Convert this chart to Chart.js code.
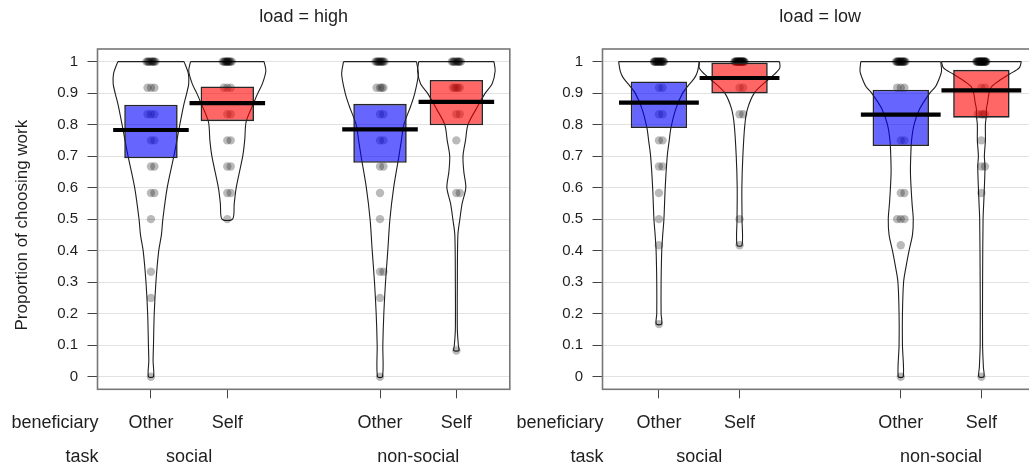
<!DOCTYPE html>
<html>
<head>
<meta charset="utf-8">
<script src="https://cdn.jsdelivr.net/npm/chart.js@4.4.1/dist/chart.umd.min.js"></script>
<style>
  html, body { margin: 0; padding: 0; background: #fff; width: 1029px; height: 470px; overflow: hidden; }
  #wrap { position: relative; width: 1029px; height: 470px; overflow: hidden; }
  canvas { position: absolute; top: 0; }
  #panelHigh { left: 0; }
  #panelLow { left: 512px; }
</style>
</head>
<body>
<div id="wrap">
  <canvas id="panelHigh" width="514" height="470"></canvas>
  <canvas id="panelLow" width="530" height="470"></canvas>
</div>
<script>
// ---- data ---------------------------------------------------------------
const LOADS = ['high', 'low'];
const TASKS = ['social', 'non-social'];
const BENEFICIARIES = ['Other', 'Self'];
const Y_TICKS = [0, 0.1, 0.2, 0.3, 0.4, 0.5, 0.6, 0.7, 0.8, 0.9, 1];

// bean order inside each panel: social/Other, social/Self, non-social/Other, non-social/Self
const MEAN_HIGH = [0.783, 0.868, 0.785, 0.872];
const MEAN_LOW  = [0.870, 0.948, 0.832, 0.909];

// inference band (HDI) of each bean: [lower, upper]
const HDI_HIGH = [[0.693, 0.863], [0.811, 0.921], [0.679, 0.866], [0.798, 0.942]];
const HDI_LOW  = [[0.789, 0.937], [0.899, 0.997], [0.732, 0.911], [0.822, 0.974]];

// per-participant proportions
const POINTS_HIGH = [
  [1, 1, 1, 1, 1, 1, 1, 1, 1, 1, 0.917, 0.917, 0.917, 0.833, 0.833, 0.833, 0.75, 0.75,
   0.667, 0.667, 0.583, 0.583, 0.5, 0.333, 0.25, 0],
  [1, 1, 1, 1, 1, 1, 1, 1, 1, 1, 1, 1, 0.917, 0.917, 0.917, 0.833, 0.833, 0.75, 0.75,
   0.667, 0.667, 0.583, 0.583, 0.5],
  [1, 1, 1, 1, 1, 1, 1, 1, 1, 1, 1, 0.917, 0.917, 0.917, 0.917, 0.833, 0.833, 0.75, 0.75,
   0.667, 0.667, 0.583, 0.5, 0.333, 0.333, 0.25, 0],
  [1, 1, 1, 1, 1, 1, 1, 1, 1, 1, 0.917, 0.917, 0.917, 0.917, 0.917, 0.833, 0.833, 0.75,
   0.583, 0.583, 0.083]
];
const POINTS_LOW = [
  [1, 1, 1, 1, 1, 1, 1, 1, 1, 1, 1, 1, 1, 1, 1, 1, 1, 1, 0.917, 0.917, 0.833, 0.833,
   0.75, 0.75, 0.667, 0.667, 0.583, 0.5, 0.417, 0.167],
  [1, 1, 1, 1, 1, 1, 1, 1, 1, 1, 1, 1, 1, 1, 1, 1, 1, 1, 1, 1, 1, 1, 1, 1,
   0.917, 0.917, 0.833, 0.833, 0.5, 0.417],
  [1, 1, 1, 1, 1, 1, 1, 1, 1, 1, 1, 1, 1, 1, 1, 1, 0.917, 0.917, 0.917, 0.75, 0.75,
   0.583, 0.583, 0.5, 0.5, 0.5, 0.417, 0],
  [1, 1, 1, 1, 1, 1, 1, 1, 1, 1, 1, 1, 1, 1, 1, 1, 1, 1, 1, 1, 1, 1, 1, 1,
   0.917, 0.917, 0.833, 0.833, 0.833, 0.833, 0.75, 0.667, 0.667, 0.583, 0]
];

// density outline of each bean: [proportion, half width in bean units], top to bottom
const VIOLIN_HIGH = [
  [[1, 0.434], [0.963, 0.489], [0.93, 0.495], [0.9, 0.469], [0.863, 0.43], [0.8, 0.378],
   [0.75, 0.34], [0.7, 0.3], [0.6, 0.213], [0.5, 0.156], [0.45, 0.137], [0.4, 0.102],
   [0.3, 0.065], [0.2, 0.043], [0.1, 0.033], [0.05, 0.028], [0, 0.033]],
  [[1, 0.482], [0.97, 0.505], [0.93, 0.46], [0.9, 0.4], [0.87, 0.348], [0.81, 0.248],
   [0.75, 0.228], [0.7, 0.202], [0.6, 0.117], [0.55, 0.091], [0.5, 0.069]],
  [[1, 0.478], [0.96, 0.502], [0.9, 0.456], [0.86, 0.404], [0.8, 0.313], [0.75, 0.28],
   [0.7, 0.248], [0.6, 0.179], [0.5, 0.13], [0.4, 0.102], [0.3, 0.072], [0.2, 0.05],
   [0.1, 0.037], [0, 0.033]],
  [[1, 0.493], [0.97, 0.508], [0.93, 0.469], [0.9, 0.378], [0.85, 0.26], [0.8, 0.152],
   [0.75, 0.12], [0.7, 0.087], [0.65, 0.098], [0.6, 0.124], [0.55, 0.076], [0.5, 0.046],
   [0.45, 0.02], [0.3, 0.013], [0.15, 0.013], [0.1, 0.026], [0.083, 0.033]]
];
const VIOLIN_LOW = [
  [[1, 0.5], [0.97, 0.48], [0.95, 0.446], [0.93, 0.384], [0.9, 0.294], [0.85, 0.21],
   [0.79, 0.149], [0.75, 0.128], [0.7, 0.103], [0.6, 0.078], [0.5, 0.062], [0.45, 0.047],
   [0.4, 0.035], [0.3, 0.027], [0.2, 0.027], [0.167, 0.033]],
  [[1, 0.496], [0.98, 0.5], [0.96, 0.434], [0.93, 0.297], [0.9, 0.182], [0.85, 0.099],
   [0.8, 0.066], [0.7, 0.041], [0.6, 0.029], [0.5, 0.031], [0.417, 0.031]],
  [[1, 0.496], [0.97, 0.506], [0.95, 0.483], [0.92, 0.43], [0.9, 0.36], [0.85, 0.235],
   [0.8, 0.165], [0.75, 0.134], [0.7, 0.124], [0.65, 0.12], [0.6, 0.128], [0.55, 0.14],
   [0.5, 0.155], [0.45, 0.145], [0.4, 0.103], [0.35, 0.066], [0.3, 0.035], [0.2, 0.021],
   [0.1, 0.021], [0, 0.031]],
  [[1, 0.496], [0.98, 0.47], [0.96, 0.347], [0.94, 0.223], [0.92, 0.124], [0.9, 0.095],
   [0.87, 0.077], [0.85, 0.062], [0.83, 0.062], [0.8, 0.05], [0.75, 0.05], [0.7, 0.037],
   [0.667, 0.045], [0.6, 0.037], [0.55, 0.029], [0.5, 0.021], [0.3, 0.015], [0.1, 0.015],
   [0.03, 0.025], [0, 0.031]]
];

// ---- styling ------------------------------------------------------------
const FONT = '"Liberation Sans", Arial, Helvetica, sans-serif';
const INK = '#1f1f1f';
const BEAN_FILL = ['rgba(0, 0, 255, 0.6)', 'rgba(255, 0, 0, 0.6)'];
const JITTER = [0, 0.045, -0.045, 0.022, -0.022, 0.06, -0.06, 0.011, -0.033, 0.033, -0.011];
const AVG_HALF = 0.495;

// beans sit at 1, 2 (social) and 4, 5 (non-social)
const beanPos = i => Math.floor(i / 2) * 3 + (i % 2) + 1;

function buildDatasets(means, hdi, points, violins) {
  const ds = [];
  violins.forEach((prof, i) => {
    const c = beanPos(i);
    const leftSide = prof.map(([y, w]) => ({ x: c - w, y }));
    const rightSide = prof.slice().reverse().map(([y, w]) => ({ x: c + w, y }));
    ds.push({
      type: 'line', data: leftSide.concat(rightSide), borderColor: INK, borderWidth: 1.1,
      tension: 0.3, pointRadius: 0, fill: false, order: 4
    });
    const [yTop, wTop] = prof[0];
    ds.push({
      type: 'line', data: [{ x: c - wTop, y: yTop }, { x: c + wTop, y: yTop }],
      borderColor: INK, borderWidth: 1.1, tension: 0, pointRadius: 0, fill: false, order: 4
    });
  });

  const pts = [];
  points.forEach((vals, i) => {
    const c = beanPos(i);
    const seen = {};
    vals.forEach(v => {
      const k = (seen[v] = (seen[v] || 0) + 1) - 1;
      pts.push({ x: c + JITTER[k % JITTER.length], y: v });
    });
  });
  ds.push({
    type: 'scatter', data: pts, pointRadius: 4.2, pointHoverRadius: 4.2,
    backgroundColor: 'rgba(0, 0, 0, 0.27)', borderWidth: 0, order: 3
  });

  ds.push({
    type: 'bar', data: hdi.map((r, i) => ({ x: beanPos(i), y: r })),
    backgroundColor: hdi.map((r, i) => BEAN_FILL[i % 2]),
    borderColor: '#262626', borderWidth: 1.6, borderSkipped: false,
    barPercentage: 0.7, categoryPercentage: 1, order: 2
  });

  means.forEach((m, i) => {
    const c = beanPos(i);
    ds.push({
      type: 'line', data: [{ x: c - AVG_HALF, y: m }, { x: c + AVG_HALF, y: m }],
      borderColor: '#000', borderWidth: 4.2, borderCapStyle: 'butt',
      tension: 0, pointRadius: 0, fill: false, order: 1
    });
  });
  return ds;
}

// box, titles and the two label rows under the x axis
const panelText = {
  id: 'panelText',
  afterDatasetsDraw(chart) {
    const { ctx, chartArea: a } = chart;
    ctx.save();
    ctx.strokeStyle = '#777';
    ctx.lineWidth = 1.6;
    ctx.strokeRect(a.left, a.top, a.right - a.left, a.bottom - a.top);
    ctx.restore();
  },
  afterDraw(chart, args, opts) {
    const { ctx, chartArea: a } = chart;
    const xs = chart.scales.x;
    ctx.save();
    ctx.fillStyle = INK;
    ctx.textBaseline = 'middle';

    ctx.font = '18px ' + FONT;
    ctx.textAlign = 'center';
    ctx.fillText('load = ' + opts.load, (a.left + a.right) / 2, 17);

    ctx.textAlign = 'right';
    ctx.fillText('beneficiary', a.left + 1, 423);
    ctx.fillText('task', a.left + 1, 457);

    ctx.textAlign = 'center';
    TASKS.forEach((t, k) => {
      const mid = (beanPos(2 * k) + beanPos(2 * k + 1)) / 2;
      ctx.fillText(t, xs.getPixelForValue(mid), 457);
    });

    if (opts.yTitle) {
      ctx.translate(22, (a.top + a.bottom) / 2 + 6);
      ctx.rotate(-Math.PI / 2);
      ctx.font = '17px ' + FONT;
      ctx.fillText(opts.yTitle, 0, 0);
    }
    ctx.restore();
  }
};

function makePanel(id, load, means, hdi, points, violins, yAxisWidth, rightPad, yTitle) {
  return new Chart(document.getElementById(id), {
    type: 'scatter',
    data: { datasets: buildDatasets(means, hdi, points, violins) },
    plugins: [panelText],
    options: {
      responsive: false,
      devicePixelRatio: 1,
      animation: false,
      events: [],
      layout: { padding: { top: 49, right: rightPad, bottom: 0, left: 0 } },
      plugins: {
        legend: { display: false },
        tooltip: { enabled: false },
        title: { display: false },
        panelText: { load, yTitle }
      },
      scales: {
        x: {
          type: 'linear', min: 0.3, max: 5.7, position: 'bottom', offset: false,
          afterBuildTicks: s => { s.ticks = [0, 1, 2, 3].map(i => ({ value: beanPos(i) })); },
          afterFit: s => { s.height = 80.7; },
          border: { display: false },
          grid: { offset: false, drawOnChartArea: false, drawTicks: true, tickLength: 9, tickColor: '#444', tickWidth: 1 },
          ticks: {
            font: { family: FONT, size: 18 }, color: INK, padding: 13.5, maxRotation: 0,
            autoSkip: false,
            callback: v => BENEFICIARIES[(v - 1) % 3]
          }
        },
        y: {
          type: 'linear', min: -0.04, max: 1.04,
          afterBuildTicks: s => { s.ticks = Y_TICKS.map(v => ({ value: v })); },
          afterFit: s => { s.width = yAxisWidth; },
          border: { display: false },
          grid: { color: '#e2e2e2', lineWidth: 1, tickColor: '#444', tickWidth: 1, tickLength: 10 },
          ticks: {
            font: { family: FONT, size: 15 }, color: INK, padding: 9.5, autoSkip: false,
            callback: v => String(v)
          }
        }
      }
    }
  });
}

makePanel('panelHigh', LOADS[0], MEAN_HIGH, HDI_HIGH, POINTS_HIGH, VIOLIN_HIGH, 97.5, 3,
  'Proportion of choosing work');
makePanel('panelLow', LOADS[1], MEAN_LOW, HDI_LOW, POINTS_LOW, VIOLIN_LOW, 90.5, 4, null);
</script>
</body>
</html>
